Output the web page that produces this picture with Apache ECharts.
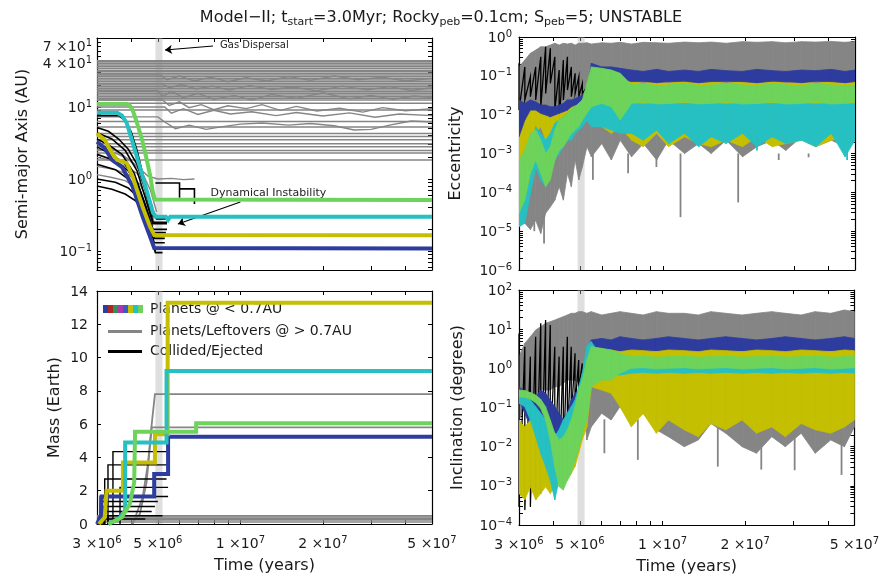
<!DOCTYPE html>
<html><head><meta charset="utf-8">
<script src="https://cdn.jsdelivr.net/npm/echarts@6/dist/echarts.min.js"></script>
<style>html,body{margin:0;padding:0;background:#fff}#c{width:882px;height:576px}</style>
</head><body><div id="c"></div><script>
// ---------------- axes / ticks ----------------
const xTickLabelValues = [3e6, 5e6, 1e7, 2e7, 5e7];
const xTickValues = [3e6, 4e6, 5e6, 6e6, 7e6, 8e6, 9e6, 1e7, 2e7, 3e7, 4e7, 5e7];
const semiTickLabelValues = [0.1, 1, 10, 40, 70];
const semiTickValues = [0.06,0.07,0.08,0.09,0.1,0.2,0.3,0.4,0.5,0.6,0.7,0.8,0.9,1,2,3,4,5,6,7,8,9,10,20,30,40,50,60,70,80,90];
const eccTickLabelValues = [1e-6, 1e-5, 1e-4, 1e-3, 1e-2, 1e-1, 1];
const incTickLabelValues = [1e-4, 1e-3, 1e-2, 1e-1, 1, 10, 100];
const massTickLabelValues = [0, 2, 4, 6, 8, 10, 12, 14];
const gasDispersal = [4.9e6, 5.2e6];

// ---------------- semi-major axis (AU) ----------------
const semiFlatLevels = [44,42.5,40.5,38.3,36.5,34.5,32.5,30.9,29.3,27.8,26.3,25.0,23.7,22.4,21.3,20.2,19.2,18.2,17.2,16.3,15.5,14.7,13.9,13.2,12.5,11.3,9.1,6.3,5.3,4.3,3.9,3.5,3.1,2.8,2.5,2.3,1.84];
const semiWiggle1 = [[3e6,12.5],[5.2e6,12.5],[5.5e6,10.5],[6e6,11.8],[6.5e6,9.8],[7.2e6,10.8],[8e6,9.2],[9e6,10.4],[1.05e7,9.5],[1.2e7,10.8],[1.4e7,9.0],[1.6e7,10.2],[1.9e7,8.8],[2.3e7,9.6],[2.8e7,8.5],[3.3e7,9.8],[4e7,8.9],[5e7,9.5]];
const semiWiggle2 = [[3e6,7.3],[5e6,7.3],[5.3e6,6.2],[5.8e6,5.0],[6.5e6,5.6],[7.5e6,4.9],[8.5e6,5.3],[1e7,5.8],[1.2e7,6.0],[1.5e7,5.6],[1.8e7,5.9],[2.2e7,5.5],[2.6e7,4.8],[3.0e7,4.9],[3.5e7,5.6],[4.2e7,6.4],[5e7,6.2]];
const semiWiggle3 = [[3e6,17],[5e6,17],[5.2e6,14],[5.6e6,16.5],[6.2e6,13.5],[7e6,15.5],[8e6,12.8],[9.5e6,14.5],[1.1e7,12.5],[1.3e7,15],[1.6e7,13.2],[2e7,15.8],[2.5e7,13],[3e7,14.5],[3.6e7,12.8],[4.3e7,14.2],[5e7,13.5]];
const semiWiggle4 = [[3e6,28],[5.1e6,28],[5.4e6,24],[6e6,27],[6.8e6,23],[7.8e6,26],[9e6,22.5],[1.05e7,25.5],[1.25e7,23],[1.5e7,26.5],[1.8e7,23.5],[2.2e7,27],[2.7e7,24],[3.3e7,26],[4e7,23],[5e7,25]];
const semiWiggle5 = [[3e6,10],[5.3e6,10],[5.6e6,8.2],[6.2e6,9.5],[7e6,7.9],[8e6,9.0],[9.2e6,8.0],[1.1e7,8.6],[1.35e7,7.6],[1.6e7,8.4],[2e7,7.5],[2.5e7,8.3],[3.1e7,7.2],[3.8e7,8.0],[5e7,7.6]];
const semiWiggle6 = [[3e6,21],[5.2e6,21],[5.5e6,18.5],[6.1e6,20.5],[6.9e6,17.8],[7.9e6,19.5],[9.1e6,17.2],[1.08e7,19.8],[1.3e7,17.5],[1.55e7,19],[1.9e7,16.8],[2.35e7,19.5],[2.9e7,17.3],[3.5e7,19.2],[4.2e7,17],[5e7,18.5]];
const semiGrayBundle1 = [[3e6,2.6],[3.5e6,2.3],[3.9e6,1.9],[4.3e6,1.4],[4.6e6,1.1],[5e6,1.0],[5.6e6,1.02],[6.2e6,0.98],[6.8e6,1.0]];
const semiGrayBundle2 = [[3e6,2.0],[3.4e6,1.8],[3.8e6,1.5],[4.2e6,1.2],[4.5e6,0.8],[4.7e6,0.5],[4.9e6,0.3]];
const semiGrayBundle3 = [[3e6,1.5],[3.5e6,1.35],[3.9e6,1.15],[4.3e6,0.85],[4.6e6,0.5],[4.85e6,0.25]];
const semiGrayBundle4 = [[3e6,1.15],[3.4e6,1.05],[3.8e6,0.95],[4.2e6,0.75],[4.5e6,0.45],[4.8e6,0.22]];
const semiGrayBundle5 = [[3e6,3.0],[3.3e6,2.8],[3.7e6,2.2],[4.1e6,1.6],[4.4e6,1.2],[4.7e6,0.7],[4.95e6,0.35]];
const semiBlack0 = [[3e6,7.6],[3.6e6,7.6],[3.8e6,6.5],[4.0e6,4.5],[4.2e6,2.5],[4.4e6,1.2],[4.6e6,0.5],[4.8e6,0.25],[5.4e6,0.25]];
const semiBlack1 = [[3e6,5.2],[3.3e6,4.6],[3.6e6,3.6],[3.9e6,2.6],[4.2e6,1.6],[4.5e6,0.7],[4.75e6,0.32],[4.95e6,0.28],[5.45e6,0.28]];
const semiBlack2 = [[3e6,4.4],[3.4e6,3.6],[3.8e6,2.5],[4.2e6,1.3],[4.5e6,0.55],[4.8e6,0.24],[5.4e6,0.24]];
const semiBlack3 = [[3e6,3.6],[3.3e6,3.0],[3.7e6,2.2],[4.1e6,1.2],[4.45e6,0.5],[4.8e6,0.2],[5.4e6,0.2]];
const semiBlack4 = [[3e6,2.8],[3.4e6,2.2],[3.8e6,1.6],[4.2e6,0.9],[4.5e6,0.42],[4.8e6,0.18],[5.35e6,0.18]];
const semiBlack5 = [[3e6,2.2],[3.5e6,1.8],[3.9e6,1.3],[4.3e6,0.7],[4.6e6,0.33],[4.85e6,0.15],[5.3e6,0.15]];
const semiBlack6 = [[3e6,1.6],[3.5e6,1.35],[3.9e6,1.0],[4.3e6,0.55],[4.6e6,0.27],[4.85e6,0.13],[5.3e6,0.13]];
const semiBlack7 = [[3e6,1.0],[3.5e6,0.9],[3.9e6,0.75],[4.25e6,0.55],[4.55e6,0.28],[4.8e6,0.12],[4.9e6,0.095],[5.2e6,0.095]];
const semiBlack8 = [[3e6,0.8],[3.4e6,0.72],[3.8e6,0.62],[4.15e6,0.5],[4.5e6,0.3],[4.75e6,0.14],[4.9e6,0.1]];
const semiBlackInstab = [[4.9e6,0.88],[6.0e6,0.88],[6.0e6,0.55],[6.0e6,0.73],[6.8e6,0.73],[6.8e6,0.45]];
const semiGreen = [[3e6,11],[3.85e6,11],[3.95e6,10.5],[4.05e6,9.0],[4.2e6,6.0],[4.4e6,3.3],[4.55e6,1.9],[4.68e6,1.15],[4.8e6,0.65],[4.88e6,0.52],[5e7,0.51]];
const semiCyan = [[3e6,8.3],[3.55e6,8.3],[3.7e6,7.6],[3.85e6,6.0],[4.05e6,3.2],[4.3e6,1.47],[4.55e6,0.7],[4.8e6,0.34],[4.92e6,0.3],[5.35e6,0.3],[5.45e6,0.27],[5.55e6,0.3],[5e7,0.3]];
const semiYellow = [[3e6,4.3],[3.2e6,3.5],[3.4e6,2.3],[3.55e6,1.85],[3.85e6,1.67],[4.05e6,1.07],[4.4e6,0.41],[4.68e6,0.22],[4.85e6,0.167],[5e7,0.165]];
const semiBlue = [[3e6,3.3],[3.2e6,2.7],[3.4e6,1.84],[3.7e6,1.47],[4.05e6,0.78],[4.4e6,0.3],[4.68e6,0.16],[4.85e6,0.11],[5e7,0.108]];
const annotArrows = [[[7.95e6,70.3],[5.31e6,61.9]], [[1.0e7,0.48],[5.92e6,0.237]]];
const annotTexts = [{name:'Gas Dispersal', coord:[8.4e6,72.6], size:10}, {name:'Dynamical Instability', coord:[7.75e6,0.64], size:11}];

// ---------------- mass (Earth) ----------------
const massYellow = [[3.05e6,0],[3.2e6,0.4],[3.25e6,2.0],[3.73e6,2.0],[3.73e6,3.7],[4.88e6,3.7],[4.88e6,5.4],[5.43e6,5.4],[5.43e6,13.3],[5e7,13.3]];
const massCyan = [[3.3e6,0],[3.6e6,0.3],[3.8e6,0.8],[3.8e6,4.9],[5.38e6,4.9],[5.38e6,9.2],[5e7,9.2]];
const massGreen = [[3.3e6,0],[3.7e6,0.4],[3.95e6,1.2],[4.1e6,2.5],[4.13e6,5.55],[6.9e6,5.55],[6.9e6,6.05],[5e7,6.05]];
const massBlue = [[3.0e6,0],[3.1e6,0.5],[3.12e6,1.65],[4.85e6,1.65],[4.85e6,3.0],[5.45e6,3.0],[5.45e6,5.25],[5e7,5.25]];
const massGrayA = [[4.05e6,0],[4.4e6,1.6],[4.6e6,3.6],[4.75e6,6.0],[4.88e6,7.8],[5e7,7.8]];
const massGrayB = [[4.0e6,0],[4.3e6,0.6],[4.55e6,2.5],[4.75e6,5.8],[5e7,5.8]];
const massGrayLowLevels = [0.12, 0.25, 0.33, 0.42, 0.5];
const massBlackLevel = [4.35, 3.55, 2.7, 2.2, 1.65, 1.35, 1.05, 0.75, 0.5, 0.3];
const massBlackStart = [3.43e6, 3.29e6, 3.2e6, 3.64e6, 3.08e6, 3.12e6, 3.16e6, 3.2e6, 3.29e6, 3.03e6];
const massBlackEnd = [5.38e6, 5.38e6, 5.38e6, 5.45e6, 5.45e6, 5.0e6, 4.88e6, 4.75e6, 5.2e6, 4.5e6];

// ---------------- band times (Myr) for eccentricity / inclination ----------------
const bandTimesMyr = [3.0,3.15,3.3,3.45,3.6,3.75,3.9,4.05,4.2,4.35,4.5,4.65,4.8,4.95,5.1,5.3,5.5,6.0,6.5,7.0,7.7,8.5,9.5,10.5,12,13.5,15,17,19.5,22,25,28,32,36,41,46,50];

// eccentricity
const eccGrayHi = [0.17,0.255,0.38,0.46,0.56,0.56,0.62,0.69,0.62,0.69,0.66,0.69,0.62,0.69,0.69,0.71,0.66,0.71,0.69,0.73,0.66,0.73,0.71,0.69,0.74,0.71,0.74,0.69,0.76,0.73,0.76,0.71,0.76,0.74,0.77,0.73,0.77];
const eccGrayLo = [2.9e-5,1.6e-5,1.1e-5,1.9e-5,8.7e-6,2.9e-5,4.2e-5,6.3e-5,1.4e-4,6.3e-5,3.1e-4,1.4e-4,6.8e-4,2.1e-4,4.5e-4,1.5e-3,8.2e-4,1.8e-3,6.8e-4,2.2e-3,8.2e-4,1.8e-3,6.8e-4,2.2e-3,1.0e-3,1.8e-3,1.0e-3,2.2e-3,8.2e-4,1.5e-3,2.2e-3,1.2e-3,2.7e-3,1.5e-3,2.2e-3,1.5e-3,2.7e-3];
const eccBlackHi = [0.21,0.17,0.095,0.17,0.31,0.56,0.51,0.31,0.141,0.255,0.31,0.17,0.116,0.095,0.064,0.052];
const eccBlackLo = [0.0131,0.024,0.029,0.024,0.016,0.035,0.064,0.0131,0.0073,0.024,0.043,0.029,0.035,0.029,0.035,0.029];
const eccBlueHi = [0.024,0.0195,0.024,0.0215,0.0177,0.0177,0.016,0.016,0.0177,0.0195,0.024,0.024,0.026,0.029,0.032,0.035,0.21,0.17,0.17,0.156,0.141,0.13,0.147,0.13,0.141,0.13,0.147,0.136,0.13,0.147,0.136,0.13,0.141,0.136,0.147,0.13,0.141];
const eccBlueLo = [0.0027,0.0073,0.0131,0.0131,0.0108,0.0098,0.0088,0.0098,0.0108,0.0119,0.0131,0.016,0.0177,0.0195,0.0215,0.024,0.128,0.105,0.095,0.086,0.071,0.073,0.0665,0.071,0.073,0.0665,0.071,0.073,0.071,0.0665,0.073,0.071,0.0665,0.073,0.071,0.0665,0.071];
const eccYellowHi = [0.0131,0.016,0.016,0.0145,0.0119,0.0108,0.0098,0.0119,0.0108,0.0119,0.0145,0.016,0.0177,0.0195,0.024,0.026,0.095,0.078,0.071,0.064,0.071,0.064,0.071,0.064,0.071,0.064,0.071,0.064,0.071,0.064,0.071,0.064,0.071,0.064,0.071,0.064,0.071];
const eccYellowLo = [4.2e-5,8.2e-4,0.0022,0.0033,0.0049,0.0022,0.0033,0.0049,0.006,0.0066,0.0073,0.0088,0.0098,0.0108,0.0131,0.016,0.0131,0.0049,0.0033,0.0049,0.0022,0.0015,0.0033,0.0015,0.0027,0.0018,0.0015,0.0022,0.0015,0.0027,0.0015,0.0018,0.0022,0.0015,0.0022,0.0027,0.0022];
const eccGreenHi = [6.8e-4,0.0012,0.0033,0.004,0.0022,0.001,0.0015,0.004,0.0073,0.0088,0.0108,0.0131,0.016,0.0195,0.024,0.064,0.17,0.156,0.141,0.116,0.058,0.064,0.055,0.058,0.064,0.055,0.058,0.064,0.058,0.055,0.064,0.058,0.055,0.064,0.058,0.055,0.058];
const eccGreenLo = [2.9e-5,6.3e-5,3.1e-4,6.8e-4,3.1e-4,1.4e-4,2.1e-4,6.8e-4,0.0012,0.0015,0.0022,0.0033,0.004,0.0049,0.0073,0.0108,0.016,0.0195,0.016,0.0073,0.0195,0.0215,0.0188,0.0195,0.0215,0.0188,0.0195,0.0215,0.0188,0.0195,0.0215,0.0188,0.0195,0.0215,0.0188,0.0195,0.0215];
const eccCyanHi = [3.1e-4,1.4e-4,0.001,0.0049,0.0033,0.0022,0.0033,0.006,0.0073,0.0088,0.0108,0.0131,0.016,0.0195,0.024,0.035,0.029,0.024,0.024,0.0215,0.0195,0.0188,0.0195,0.0188,0.0195,0.0188,0.0195,0.0188,0.0195,0.0188,0.0195,0.0188,0.0195,0.0188,0.0195,0.0188,0.0195];
const eccCyanLo = [1.3e-5,1.6e-5,9.3e-5,4.5e-4,2.1e-4,1.4e-4,3.1e-4,6.8e-4,0.001,0.0015,0.0022,0.0022,0.0033,0.004,0.0049,0.0073,0.0049,0.0049,0.004,0.0033,0.0033,0.0022,0.004,0.0018,0.0033,0.0015,0.0027,0.0018,0.0033,0.0015,0.0027,0.0018,0.0022,0.0015,0.0033,8.2e-4,0.0022];
const eccGraySpikes = [[3.41e6,1e-4,1e-5],[3.70e6,1e-4,4.8e-6],[5.57e6,1e-3,2.1e-4],[7.48e6,1e-3,3.1e-4],[9.48e6,1e-3,4.5e-4],[1.16e7,1e-3,2.3e-5],[1.88e7,1e-3,5.5e-5],[2.64e7,1e-3,6.8e-4],[3.39e7,1e-3,8e-4]];
const eccCyanSpikes = [[4.68e7,3e-3,6.8e-4],[2.2e7,3e-3,1.2e-3]];

// inclination (degrees)
const incGrayHi = [1.99,4.35,6.4,9.5,11.6,14.1,15.5,17.1,18.9,20.9,23,25.4,25.4,28,28,25.4,28,23,25.4,28,25.4,23,28,25.4,25.4,23,28,25.4,23,25.4,28,25.4,23,28,25.4,30.9,28];
const incGrayLo = [0.048,0.105,0.155,0.189,0.28,0.28,0.28,0.34,0.34,0.41,0.5,0.5,0.5,0.41,0.34,0.0148,0.032,0.071,0.048,0.105,0.039,0.071,0.027,0.018,0.01,0.0148,0.039,0.022,0.01,0.0068,0.018,0.01,0.022,0.0068,0.0148,0.01,0.032];
const incBlackHi = [7.8,3.57,1.99,6.4,14.1,17.1,12.8,3.57,1.99,3.57,6.4,3.57,2.41,1.63,1.34,1.1];
const incBlackLo = [2.9e-4,2.4e-4,2.9e-4,4.4e-4,6.4e-4,0.0014,0.0068,0.0031,0.0014,0.0031,0.0148,0.048,0.105,0.28,0.34,0.5];
const incBlueHi = [0.34,0.254,0.23,0.189,0.28,0.23,0.155,0.105,0.071,0.048,0.071,0.155,0.23,0.28,0.34,0.5,5.3,5.8,5.3,6.4,5.8,5.3,5.8,6.4,5.8,5.3,5.8,6.4,5.8,5.3,5.8,6.4,5.8,5.3,5.8,6.4,5.8];
const incBlueLo = [0.155,0.071,0.032,0.022,0.0148,0.0148,0.0068,0.0068,0.0046,0.0031,0.0046,0.01,0.022,0.048,0.071,0.105,2.94,2.66,2.83,2.66,2.83,2.66,2.83,2.66,2.83,2.66,2.83,2.66,2.83,2.66,2.83,2.66,2.83,2.66,2.83,2.66,2.83];
const incYellowHi = [0.048,0.032,0.048,0.022,0.0148,0.01,0.0148,0.022,0.018,0.0148,0.018,0.027,0.048,0.071,0.105,0.189,2.94,2.83,2.94,2.66,2.94,2.83,2.66,2.94,2.83,2.66,2.94,2.83,2.66,2.94,2.83,2.66,2.94,2.83,2.66,2.94,2.83];
const incYellowLo = [6.4e-4,4.4e-4,9.5e-4,4.4e-4,6.4e-4,9.5e-4,6.4e-4,9.5e-4,0.0014,9.5e-4,0.0014,0.0021,0.0031,0.0068,0.0148,0.032,0.34,0.28,0.23,0.105,0.032,0.071,0.022,0.048,0.027,0.018,0.039,0.027,0.048,0.022,0.032,0.018,0.039,0.027,0.022,0.032,0.048];
const incGreenHi = [0.28,0.27,0.24,0.209,0.162,0.105,0.048,0.022,0.0148,0.018,0.027,0.048,0.105,0.28,0.5,1.63,3.57,3.24,2.94,2.41,1.99,2.05,1.93,1.99,2.05,1.93,1.99,2.05,1.93,1.99,2.05,1.93,1.99,2.05,1.93,1.99,2.05];
const incGreenLo = [0.189,0.182,0.162,0.133,0.095,0.048,0.0148,0.0031,9.5e-4,7.8e-4,0.0014,0.0021,0.0046,0.01,0.022,0.048,0.34,0.5,0.5,0.75,1.0,1.05,0.96,1.0,1.05,0.96,1.0,1.05,0.96,1.0,1.05,0.96,1.0,1.05,0.96,1.0,1.05];
const incCyanHi = [0.209,0.189,0.155,0.105,0.071,0.048,0.032,0.018,0.027,0.048,0.071,0.105,0.155,0.34,0.75,3.57,4.8,1.99,1.8,1.1,1.0,1.0,1.0,1.0,1.0,1.0,1.0,1.0,1.0,1.0,1.0,1.0,1.0,1.0,1.0,1.0,1.0];
const incCyanLo = [0.128,0.105,0.048,0.018,0.0068,0.0031,0.0014,4.4e-4,0.0014,0.0021,0.0031,0.0031,0.0046,0.01,0.022,0.071,1.63,0.75,0.68,0.68,0.75,0.78,0.75,0.78,0.75,0.78,0.75,0.78,0.75,0.78,0.75,0.78,0.75,0.78,0.75,0.78,0.75];
const incGraySpikes = [[6.14e6,0.05,0.0068],[8.13e6,0.05,0.0046],[1.59e7,0.05,0.0031],[2.29e7,0.05,0.0026],[3.03e7,0.05,0.0025],[4.49e7,0.05,0.0019]];

// ---------------- styling ----------------
const FONT = 'DejaVu Sans';
const TXT = '#1a1a1a';
const C = {blue:'#2d3c9e', yellow:'#c4bf00', cyan:'#26c0c2', green:'#6dd35a', gray:'#858585', black:'#000000'};
const legendSwatchColors = ['#2d3c9e','#b02525','#2a9650','#b035b0','#3a5cc0','#c4bf00','#26c0c2','#6dd35a'];
const RICH = {
  b: {fontFamily: FONT, fontSize: 14, color: TXT, lineHeight: 16, verticalAlign: 'bottom'},
  s: {fontFamily: FONT, fontSize: 10, color: TXT, lineHeight: 8, verticalAlign: 'top'}
};
function sciLabel(v, withMantissa) {
  const e = Math.floor(Math.log10(v) + 1e-9);
  const m = Math.round(v / Math.pow(10, e));
  const es = e < 0 ? '\u2212' + (-e) : String(e);
  return (withMantissa || m !== 1 ? '{b|' + m + ' \u00d710}' : '{b|10}') + '{s|' + es + '}';
}
function logTicks(e0, e1) {
  const out = [];
  for (let e = e0; e <= e1; e++) for (let k = 1; k <= 9; k++) { if (e === e1 && k > 1) break; out.push(+(k * Math.pow(10, e)).toPrecision(3)); }
  return out;
}
const AXLINE = {show: true, onZero: false, lineStyle: {color: '#000', width: 1.2}};
function tickCfg(values) { return {show: true, inside: true, length: 4, customValues: values, lineStyle: {color: '#000', width: 1}}; }
const NAME_STYLE = {fontFamily: FONT, fontSize: 16, color: TXT};

function xAxesFor(gi, showLabels) {
  const base = {type: 'log', logBase: 10, gridIndex: gi, min: 3e6, max: 5e7, splitLine: {show: false}, axisLine: AXLINE, axisTick: tickCfg(xTickValues)};
  return [
    Object.assign({}, base, {position: 'bottom',
      axisLabel: {show: showLabels, customValues: xTickLabelValues, formatter: v => sciLabel(v, true), rich: RICH, margin: 11, showMinLabel: true, showMaxLabel: true, hideOverlap: false},
      name: showLabels ? 'Time (years)' : '', nameLocation: 'middle', nameGap: 34, nameTextStyle: NAME_STYLE}),
    Object.assign({}, base, {position: 'top', axisLabel: {show: false}})
  ];
}
function yAxesFor(gi, cfg) {
  const base = Object.assign({gridIndex: gi, splitLine: {show: false}, axisLine: AXLINE, axisTick: tickCfg(cfg.ticks)}, cfg.scale);
  return [
    Object.assign({}, base, {position: 'left',
      axisLabel: {show: true, customValues: cfg.labels, formatter: cfg.fmt, rich: RICH, margin: cfg.margin, fontFamily: FONT, fontSize: 14, color: TXT, showMinLabel: true, showMaxLabel: true, hideOverlap: false},
      name: cfg.name, nameLocation: 'middle', nameGap: cfg.gap, nameTextStyle: NAME_STYLE}),
    Object.assign({}, base, {position: 'right', axisLabel: {show: false}})
  ];
}

// ---------------- series helpers ----------------
function lineS(gi, data, color, width, z) {
  return {type: 'line', xAxisIndex: 2 * gi, yAxisIndex: 2 * gi, data: data, symbol: 'none', showSymbol: false,
    lineStyle: {color: color, width: width, join: 'miter'}, itemStyle: {color: color}, z: z, silent: true, clip: true};
}
function renderBand(params, api) {
  const a = api.coord([api.value(0), api.value(1)]);
  const b = api.coord([api.value(3), api.value(4)]);
  const c = api.coord([api.value(3), api.value(5)]);
  const d = api.coord([api.value(0), api.value(2)]);
  const col = api.visual('color');
  return {type: 'polygon', shape: {points: [a, b, c, d]}, style: {fill: col, stroke: col, lineWidth: 0.8}};
}
function bandS(gi, hi, lo, color, z) {
  const rows = [];
  for (let i = 0; i < hi.length - 1; i++) {
    rows.push([bandTimesMyr[i] * 1e6, hi[i], lo[i], bandTimesMyr[i + 1] * 1e6, hi[i + 1], lo[i + 1]]);
  }
  return {type: 'custom', xAxisIndex: 2 * gi, yAxisIndex: 2 * gi, data: rows, renderItem: renderBand,
    encode: {x: [0, 3], y: [1, 2, 4, 5]}, itemStyle: {color: color}, z: z, silent: true, clip: true};
}
function zigzagS(gi, hi, lo, color, z) {
  const pts = [];
  for (let i = 0; i < hi.length; i++) { pts.push([bandTimesMyr[i] * 1e6, hi[i]]); pts.push([bandTimesMyr[i] * 1e6, lo[i]]); }
  return lineS(gi, pts, color, 1.3, z);
}
function renderSpike(params, api) {
  const a = api.coord([api.value(0), api.value(1)]);
  const b = api.coord([api.value(0), api.value(2)]);
  return {type: 'line', shape: {x1: a[0], y1: a[1], x2: b[0], y2: b[1]}, style: {stroke: api.visual('color'), lineWidth: 1.8}};
}
function spikeS(gi, rows, color, z) {
  return {type: 'custom', xAxisIndex: 2 * gi, yAxisIndex: 2 * gi, data: rows, renderItem: renderSpike,
    encode: {x: 0, y: [1, 2]}, itemStyle: {color: color}, z: z, silent: true, clip: true};
}
function gasS(gi, yv) {
  return {type: 'line', xAxisIndex: 2 * gi, yAxisIndex: 2 * gi, data: [[gasDispersal[0], yv]], symbol: 'none', showSymbol: false,
    lineStyle: {width: 0}, z: 3, silent: true,
    markArea: {silent: true, itemStyle: {color: 'rgba(175,175,175,0.4)'}, data: [[{xAxis: gasDispersal[0]}, {xAxis: gasDispersal[1]}]]}};
}

// ---------------- build ----------------
const series = [];
// panel 0: semi-major axis
semiFlatLevels.forEach(L => series.push(lineS(0, [[3e6, L], [5e7, L]], C.gray, 1.5, 2)));
[semiWiggle1, semiWiggle2, semiWiggle3, semiWiggle4, semiWiggle5, semiWiggle6].forEach(d => series.push(lineS(0, d, C.gray, 1.4, 2)));
[semiGrayBundle1, semiGrayBundle2, semiGrayBundle3, semiGrayBundle4, semiGrayBundle5].forEach(d => series.push(lineS(0, d, C.gray, 1.4, 2)));
const semiGas = gasS(0, 1);
semiGas.markLine = {silent: true, symbol: ['none', 'arrow'], symbolSize: 7, label: {show: false},
  lineStyle: {color: '#000', width: 1.1, type: 'solid'},
  data: annotArrows.map(a => [{coord: a[0]}, {coord: a[1]}])};
semiGas.markPoint = {silent: true, symbol: 'circle', symbolSize: 1, itemStyle: {color: 'rgba(0,0,0,0)'},
  data: annotTexts.map(t => ({name: t.name, coord: t.coord,
    label: {show: true, position: 'right', distance: 0, formatter: '{b}', fontFamily: FONT, fontSize: t.size, color: '#222'}}))};
series.push(semiGas);
[semiBlack0, semiBlack1, semiBlack2, semiBlack3, semiBlack4, semiBlack5, semiBlack6, semiBlack7, semiBlack8, semiBlackInstab]
  .forEach(d => series.push(lineS(0, d, C.black, 1.6, 4)));
series.push(lineS(0, semiBlue, C.blue, 4, 5));
series.push(lineS(0, semiYellow, C.yellow, 4, 5));
series.push(lineS(0, semiCyan, C.cyan, 4, 5));
series.push(lineS(0, semiGreen, C.green, 4, 5));

// panel 1: eccentricity
series.push(bandS(1, eccGrayHi, eccGrayLo, C.gray, 2));
series.push(spikeS(1, eccGraySpikes, C.gray, 2));
series.push(gasS(1, 0.01));
series.push(zigzagS(1, eccBlackHi, eccBlackLo, C.black, 4));
series.push(bandS(1, eccYellowHi, eccYellowLo, C.yellow, 5));
series.push(bandS(1, eccBlueHi, eccBlueLo, C.blue, 5));
series.push(spikeS(1, eccCyanSpikes, C.cyan, 5));
series.push(bandS(1, eccCyanHi, eccCyanLo, C.cyan, 5));
series.push(bandS(1, eccGreenHi, eccGreenLo, C.green, 5));

// panel 2: mass
massGrayLowLevels.forEach(L => series.push(lineS(2, [[3e6, L], [5e7, L]], C.gray, 1.6, 2)));
series.push(gasS(2, 1));
series.push(lineS(2, massGrayA, C.gray, 1.8, 3));
series.push(lineS(2, massGrayB, C.gray, 1.8, 3));
massBlackLevel.forEach((L, i) => series.push(lineS(2, [[massBlackStart[i], 0], [massBlackStart[i], L], [massBlackEnd[i], L]], C.black, 1.4, 4)));
series.push(lineS(2, massBlue, C.blue, 4, 5));
series.push(lineS(2, massYellow, C.yellow, 4, 5));
series.push(lineS(2, massCyan, C.cyan, 4, 5));
series.push(lineS(2, massGreen, C.green, 4, 5));

// panel 3: inclination
series.push(bandS(3, incGrayHi, incGrayLo, C.gray, 2));
series.push(spikeS(3, incGraySpikes, C.gray, 2));
series.push(gasS(3, 1));
series.push(zigzagS(3, incBlackHi, incBlackLo, C.black, 4));
series.push(bandS(3, incBlueHi, incBlueLo, C.blue, 5));
series.push(bandS(3, incYellowHi, incYellowLo, C.yellow, 5));
series.push(bandS(3, incCyanHi, incCyanLo, C.cyan, 5));
series.push(bandS(3, incGreenHi, incGreenLo, C.green, 5));

// legend (custom, as in the figure)
const legendItems = ['Planets @ < 0.7AU', 'Planets/Leftovers @ > 0.7AU', 'Collided/Ejected'];
const graphic = [];
legendSwatchColors.forEach((col, i) => graphic.push({type: 'rect', left: 103 + i * 5, top: 305, shape: {width: 5, height: 8}, style: {fill: col}, silent: true}));
graphic.push({type: 'line', shape: {x1: 108, y1: 331.5, x2: 142, y2: 331.5}, style: {stroke: C.gray, lineWidth: 3}, silent: true});
graphic.push({type: 'line', shape: {x1: 108, y1: 351.5, x2: 142, y2: 351.5}, style: {stroke: C.black, lineWidth: 3}, silent: true});
legendItems.forEach((t, i) => graphic.push({type: 'text', x: 150, y: [309, 331.5, 351.5][i], silent: true,
  style: {text: t, font: '14px "DejaVu Sans"', fill: TXT, verticalAlign: 'middle', align: 'left'}}));

const option = {
  animation: false,
  backgroundColor: '#fff',
  title: {
    text: 'Model\u2212II; t{sub|start}=3.0Myr; Rocky{sub|peb}=0.1cm; S{sub|peb}=5; UNSTABLE',
    left: 'center', top: 3,
    textStyle: {fontFamily: FONT, fontSize: 16, fontWeight: 'normal', color: TXT, lineHeight: 20,
      rich: {sub: {fontFamily: FONT, fontSize: 11, color: TXT, lineHeight: 10, verticalAlign: 'bottom'}}}
  },
  grid: [
    {left: 97, top: 38, width: 335, height: 232},
    {left: 519, top: 37, width: 336, height: 233},
    {left: 97, top: 291, width: 335, height: 233},
    {left: 519, top: 290, width: 336, height: 235}
  ],
  xAxis: [].concat(xAxesFor(0, false), xAxesFor(1, false), xAxesFor(2, true), xAxesFor(3, true)),
  yAxis: [].concat(
    yAxesFor(0, {scale: {type: 'log', logBase: 10, min: 0.0545, max: 91}, ticks: semiTickValues, labels: semiTickLabelValues, fmt: v => sciLabel(v, false), margin: 5, name: 'Semi-major Axis (AU)', gap: 66}),
    yAxesFor(1, {scale: {type: 'log', logBase: 10, min: 1e-6, max: 1}, ticks: logTicks(-6, 0), labels: eccTickLabelValues, fmt: v => sciLabel(v, false), margin: 7, name: 'Eccentricity', gap: 55}),
    yAxesFor(2, {scale: {type: 'value', min: 0, max: 14, interval: 2}, ticks: massTickLabelValues, labels: massTickLabelValues, fmt: v => '{b|' + v + '}', margin: 9, name: 'Mass (Earth)', gap: 34}),
    yAxesFor(3, {scale: {type: 'log', logBase: 10, min: 1e-4, max: 100}, ticks: logTicks(-4, 2), labels: incTickLabelValues, fmt: v => sciLabel(v, false), margin: 7, name: 'Inclination (degrees)', gap: 53})
  ),
  series: series,
  graphic: graphic
};
const chart = echarts.init(document.getElementById('c'), null, {renderer: 'canvas'});
chart.setOption(option);
</script></body></html>
